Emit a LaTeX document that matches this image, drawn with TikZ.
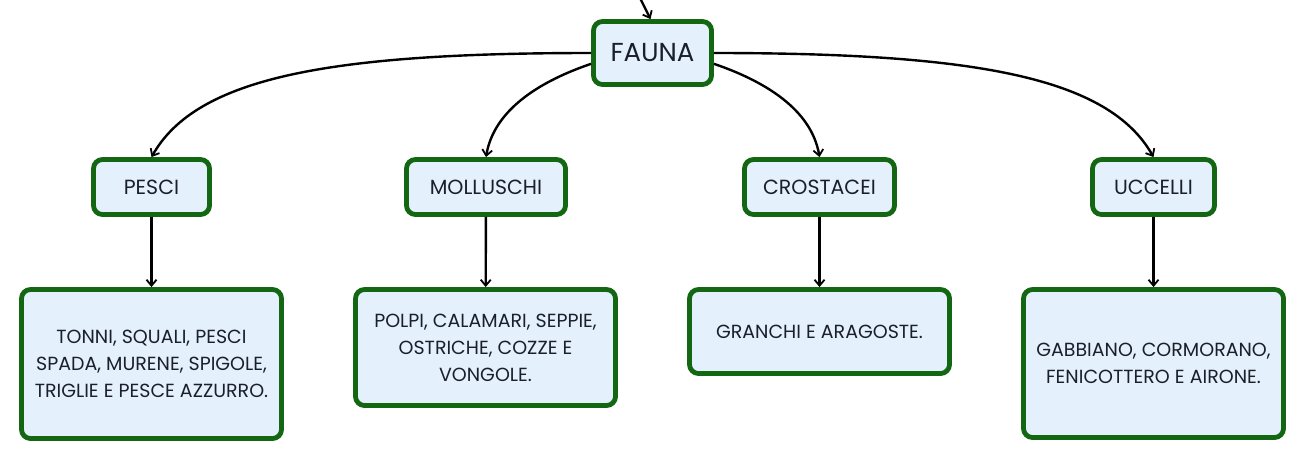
\documentclass[tikz,border=0pt]{standalone}
\usepackage{fontspec}
\setmainfont{Poppins}
\usetikzlibrary{arrows.meta,calc}
\definecolor{boxfill}{HTML}{E4F1FC}
\definecolor{boxedge}{HTML}{136612}
\definecolor{txt}{HTML}{1A1F2A}
\begin{document}
\begin{tikzpicture}[x=1pt,y=-1pt,
  box/.style={draw=boxedge,fill=boxfill,line width=4.8pt,rounded corners=9pt,
    inner sep=0pt,text=txt,align=center},
  head/.style={box,minimum height=55pt,font=\fontsize{20.5}{24}\selectfont},
  leaf/.style={box,minimum width=260pt,font=\fontsize{19}{27}\selectfont},
  link/.style={draw=black,line width=2.4pt,-{Straight Barb[length=6pt,width=10pt,line width=1.8pt]}}]
\useasboundingbox (0,0) rectangle (1306,461);
\node[box,minimum width=118pt,minimum height=63pt,font=\fontsize{26}{28}\selectfont] (fauna) at (652.5,53) {FAUNA};
\node[head,minimum width=116pt] (pesci) at (151.5,187) {PESCI};
\node[head,minimum width=159pt] (moll) at (486,187) {MOLLUSCHI};
\node[head,minimum width=150pt] (cros) at (819.5,187) {CROSTACEI};
\node[head,minimum width=122pt] (ucc) at (1153.5,187) {UCCELLI};
\node[leaf,minimum height=149pt] (l1) at (151.5,364) {TONNI, SQUALI, PESCI\\SPADA, MURENE, SPIGOLE,\\TRIGLIE E PESCE AZZURRO.};
\node[leaf,minimum height=116pt] (l2) at (485.5,347.5) {POLPI, CALAMARI, SEPPIE,\\OSTRICHE, COZZE E\\VONGOLE.};
\node[leaf,minimum height=84pt] (l3) at (819.5,331.5) {GRANCHI E ARAGOSTE.};
\node[leaf,minimum height=148pt] (l4) at (1153.5,363.5) {GABBIANO, CORMORANO,\\FENICOTTERO E AIRONE.};
\coordinate (top) at (640,-2);
\draw[link] (top) -- ($(fauna.north)+(-2,0)$);
\draw[link] (fauna.west) .. controls +(-261,0) and +(45,-80) .. (pesci.north);
\draw[link] (fauna.190) .. controls +(-50,17) and +(8,-48) .. (moll.north);
\draw[link] (fauna.350) .. controls +(50,17) and +(-8,-48) .. (cros.north);
\draw[link] (fauna.east) .. controls +(261,0) and +(-45,-80) .. (ucc.north);
\draw[link] (pesci) -- (l1);
\draw[link] (moll) -- (l2);
\draw[link] (cros) -- (l3);
\draw[link] (ucc) -- (l4);
\end{tikzpicture}
\end{document}
